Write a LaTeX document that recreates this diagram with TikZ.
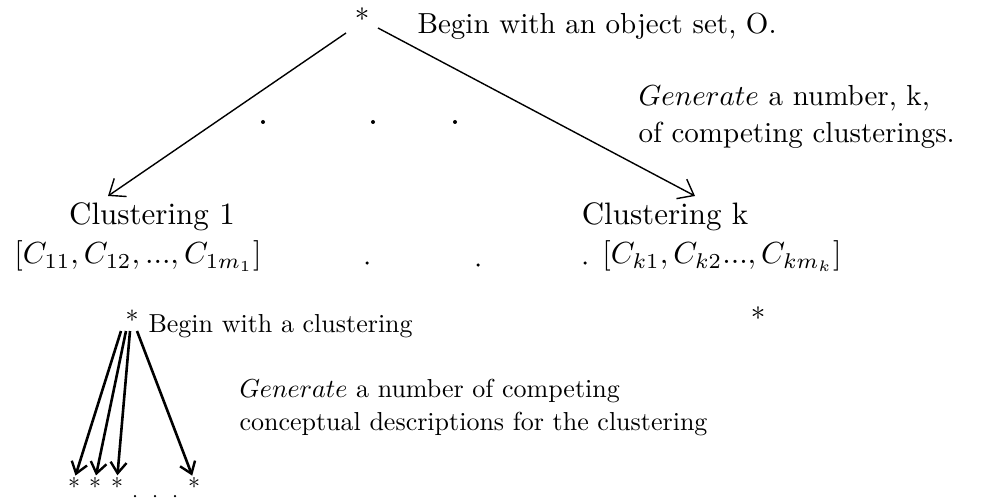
\documentclass[tikz,border=0pt]{standalone}
\usetikzlibrary{arrows.meta}
\begin{document}
\begin{tikzpicture}[x=1pt,y=-1pt,
  big/.style={font=\fontsize{10}{12.8}\selectfont, inner sep=0pt, scale=2.9, transform shape},
  clus/.style={font=\fontsize{10}{13}\selectfont, inner sep=0pt, scale=3.1, transform shape},
  mathlbl/.style={font=\fontsize{10}{13}\selectfont, inner sep=0pt, scale=3.05, transform shape},
  small/.style={font=\fontsize{10}{12.7}\selectfont, inner sep=0pt, scale=2.6, transform shape},
  starlbl/.style={font=\fontsize{10}{12}\selectfont, inner sep=0pt, scale=2.4, transform shape, text height=6pt, text depth=0pt},
  thinarrow/.style={line width=1.4pt, -{Straight Barb[length=14pt,width=22pt,line width=1.4pt]}},
  thickarrow/.style={line width=2.6pt, shorten >=5pt, -{Straight Barb[length=11pt,width=16pt,line width=2.4pt]}},
  dotmark/.style={circle, fill=black, inner sep=0pt, minimum size=4pt}]
\useasboundingbox (0,0) rectangle (989,500);
% top
\node[big] (top) at (362,19) {*};
\node[big, anchor=west] (t1) at (417,26) {Begin with an object set, O.};
\node[big, anchor=west, align=left] (gen1) at (638,117) {$Generate$ a number, k,\\of competing clusterings.};
\coordinate (lstart) at (346,33);
\coordinate (rstart) at (378,28);
\coordinate (ltip) at (108,196);
\coordinate (rtip) at (695,196);
\draw[thinarrow] (lstart) -- (ltip);
\draw[thinarrow] (rstart) -- (rtip);
\node[dotmark] (d1) at (263,122) {};
\node[dotmark] (d2) at (373,122) {};
\node[dotmark] (d3) at (455,122) {};
% clusterings
\node[clus] (cl1) at (152,217) {Clustering 1};
\node[mathlbl] (c1) at (138,256) {$[C_{11}, C_{12}, ..., C_{1m_1}]$};
\node[clus] (clk) at (665,217) {Clustering k};
\node[mathlbl] (ck) at (722,256) {$[C_{k1}, C_{k2} ..., C_{km_k}]$};
\node[dotmark, minimum size=3.5pt] (e1) at (367,263) {};
\node[dotmark, minimum size=3.5pt] (e2) at (478,265) {};
\node[dotmark, minimum size=3.5pt] (e3) at (585,263) {};
% lower part
\node[small] (s) at (132,320) {*};
\node[small, anchor=west] (b2) at (148,326) {Begin with a clustering};
\node[big] (sk) at (758,318) {*};
\node[small, anchor=west, align=left] (gen2) at (239,408) {$Generate$ a number of competing\\conceptual descriptions for the clustering};
\coordinate (s1) at (121,331);
\coordinate (s2) at (126,331);
\coordinate (s3) at (130,331);
\coordinate (s4) at (137,331);
\node[starlbl] (b1) at (74,488) {*};
\node[starlbl] (b2s) at (95,488) {*};
\node[starlbl] (b3) at (117,488) {*};
\node[starlbl] (b4) at (194,488) {*};
\node[dotmark, minimum size=2.5pt] (f1) at (135,496) {};
\node[dotmark, minimum size=2.5pt] (f2) at (155,496) {};
\node[dotmark, minimum size=2.5pt] (f3) at (175,496) {};
\draw[thickarrow] (s1) -- (b1.north);
\draw[thickarrow] (s2) -- (b2s.north);
\draw[thickarrow] (s3) -- (b3.north);
\draw[thickarrow] (s4) -- (b4.north);
\end{tikzpicture}
\end{document}
